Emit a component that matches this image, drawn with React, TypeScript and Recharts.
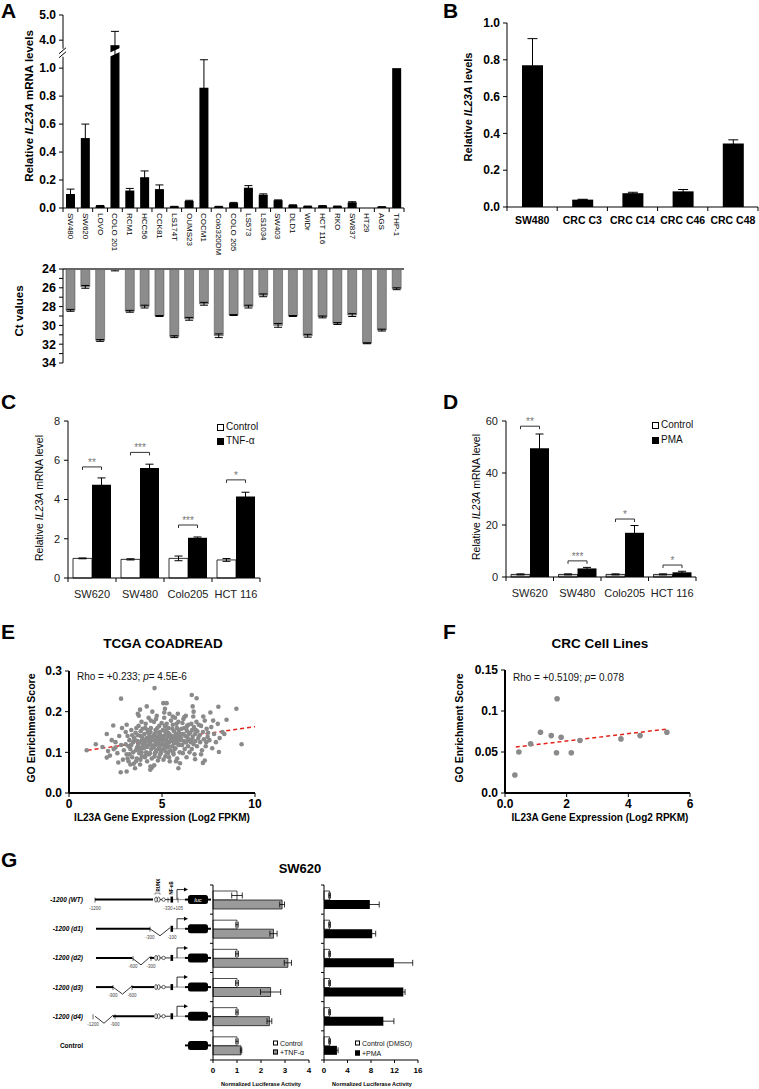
import React from 'react';
import {
  BarChart,
  Bar,
  XAxis,
  YAxis,
  ErrorBar,
  LabelList,
  ScatterChart,
  Scatter,
  ReferenceLine,
} from 'recharts';

const FONT = '"Liberation Sans", Arial, Helvetica, sans-serif';
const NARROW = '"Liberation Sans Narrow", "Liberation Sans", Arial, sans-serif';

// ---------- A: IL23A mRNA + Ct values across cell lines ----------
const A_LINES = [
  'SW480', 'SW620', 'LOVO', 'COLO 201', 'RCM1', 'HCC56', 'CCK81', 'LS174T',
  'OUMS23', 'COCM1', 'Colo320DM', 'COLO 205', 'LS573', 'LS1034', 'SW403',
  'DLD1', 'WiDr', 'HCT 116', 'RKO', 'SW837', 'HT29', 'AGS', 'THP-1',
];
const A_LEVEL = [
  0.1, 0.5, 0.015, 3.8, 0.125, 0.22, 0.135, 0.01, 0.05, 0.86, 0.01, 0.035,
  0.145, 0.095, 0.055, 0.02, 0.012, 0.015, 0.012, 0.04, 0, 0.008, 1.0,
];
const A_LEVEL_ERR = [
  0.035, 0.1, 0.003, 0.55, 0.015, 0.045, 0.03, 0.002, 0.005, 0.2, 0.002, 0.005,
  0.015, 0.006, 0.003, 0.003, 0.002, 0.002, 0.002, 0.005, 0, 0.001, 0,
];
const A_CT = [
  28.4, 25.9, 31.6, 24.1, 28.5, 28.0, 29.0, 31.2, 29.3, 27.7, 31.1, 28.9,
  28.0, 26.8, 30.0, 29.0, 31.1, 29.1, 29.8, 28.9, 31.9, 30.5, 26.1,
];
const A_CT_ERR = [
  0.1, 0.15, 0.1, 0.1, 0.1, 0.15, 0.05, 0.1, 0.15, 0.15, 0.2, 0.05,
  0.15, 0.15, 0.2, 0.05, 0.15, 0.1, 0.1, 0.15, 0.05, 0.1, 0.1,
];
const A_LEVEL_TICKS = [0, 0.2, 0.4, 0.6, 0.8, 1.0, 4.0, 5.0];
const A_CT_TICKS = [24, 25, 26, 27, 28, 29, 30, 31, 32, 33, 34];

// ---------- B: primary CRC cells ----------
const B_SAMPLES = ['SW480', 'CRC C3', 'CRC C14', 'CRC C46', 'CRC C48'];
const B_LEVEL = [0.77, 0.04, 0.075, 0.085, 0.345];
const B_ERR = [0.145, 0.002, 0.005, 0.01, 0.02];
const B_TICKS = [0, 0.2, 0.4, 0.6, 0.8, 1.0];

// ---------- C / D: TNF-a and PMA induction ----------
const CD_LINES = ['SW620', 'SW480', 'Colo205', 'HCT 116'];
const C_CONTROL = [1.0, 0.95, 1.0, 0.92];
const C_CONTROL_ERR = [0.02, 0.03, 0.12, 0.07];
const C_TNF = [4.75, 5.6, 2.05, 4.15];
const C_TNF_ERR = [0.35, 0.2, 0.04, 0.22];
const C_SIG_AT = [5.66, 6.4, 2.7, 5.0];
const C_STARS = ['**', '***', '***', '*'];
const C_TICKS = [0, 2, 4, 6, 8];

const D_CONTROL = [1.0, 1.0, 1.0, 1.0];
const D_CONTROL_ERR = [0.2, 0.2, 0.2, 0.2];
const D_PMA = [49.5, 3.3, 17, 1.8];
const D_PMA_ERR = [5.5, 0.4, 2.8, 0.4];
const D_SIG_AT = [58, 6.2, 22.3, 4.6];
const D_STARS = ['**', '***', '*', '*'];
const D_TICKS = [0, 20, 40, 60];

// ---------- E: TCGA COADREAD scatter ----------
const E_POINTS: [number, number][] = [
  [0.95, 0.105], [2.8, 0.232], [4.6, 0.258], [6.6, 0.241], [6.86, 0.233], [2.03, 0.145],
  [2.38, 0.166], [2.78, 0.051], [3.1, 0.053], [3.55, 0.061], [2.03, 0.087], [2.1, 0.103],
  [8.03, 0.212], [9.0, 0.207], [9.28, 0.12], [8.06, 0.101], [8.47, 0.18], [7.6, 0.198],
  [7.3, 0.08], [7.2, 0.074], [6.78, 0.083], [5.88, 0.061], [5.97, 0.073], [4.37, 0.057],
  [4.45, 0.062], [3.82, 0.205], [4.18, 0.213], [5.07, 0.221], [5.25, 0.221], [5.16, 0.207],
  [6.2, 0.187], [6.65, 0.213], [1.44, 0.12], [1.8, 0.113],
  [2.2, 0.092], [2.4, 0.108], [2.5, 0.125], [2.6, 0.098], [2.7, 0.14], [2.8, 0.118],
  [2.9, 0.082], [2.95, 0.105], [2.3, 0.13], [2.65, 0.075], [2.85, 0.16], [2.5, 0.112],
  [3.05, 0.12], [3.1, 0.095], [3.15, 0.14], [3.2, 0.078], [3.25, 0.13], [3.3, 0.108],
  [3.35, 0.155], [3.4, 0.088], [3.45, 0.125], [3.1, 0.168], [3.2, 0.115], [3.3, 0.07],
  [3.4, 0.142], [3.45, 0.1], [3.15, 0.085], [3.35, 0.118], [3.5, 0.135], [3.05, 0.15],
  [3.25, 0.095], [3.48, 0.072],
  [3.55, 0.13], [3.6, 0.105], [3.62, 0.16], [3.65, 0.085], [3.7, 0.142], [3.72, 0.118],
  [3.75, 0.19], [3.78, 0.098], [3.8, 0.125], [3.82, 0.07], [3.85, 0.152], [3.88, 0.112],
  [3.9, 0.175], [3.92, 0.09], [3.95, 0.135], [3.98, 0.12], [3.6, 0.078], [3.68, 0.128],
  [3.74, 0.165], [3.8, 0.108], [3.86, 0.14], [3.9, 0.1], [3.96, 0.158], [3.58, 0.148],
  [3.66, 0.112], [3.84, 0.082], [3.93, 0.13], [3.7, 0.195],
  [4.02, 0.11], [4.05, 0.145], [4.08, 0.088], [4.1, 0.128], [4.12, 0.17], [4.15, 0.1],
  [4.18, 0.135], [4.2, 0.078], [4.22, 0.155], [4.25, 0.118], [4.28, 0.185], [4.3, 0.095],
  [4.32, 0.14], [4.35, 0.125], [4.38, 0.065], [4.4, 0.16], [4.42, 0.108], [4.45, 0.132],
  [4.48, 0.2], [4.05, 0.12], [4.1, 0.16], [4.15, 0.13], [4.2, 0.113], [4.25, 0.148],
  [4.3, 0.12], [4.35, 0.098], [4.4, 0.178], [4.45, 0.085], [4.12, 0.093], [4.27, 0.135],
  [4.38, 0.15], [4.47, 0.117],
  [4.52, 0.14], [4.55, 0.112], [4.57, 0.175], [4.6, 0.09], [4.62, 0.128], [4.65, 0.155],
  [4.68, 0.102], [4.7, 0.138], [4.72, 0.19], [4.75, 0.12], [4.78, 0.08], [4.8, 0.148],
  [4.82, 0.11], [4.85, 0.165], [4.88, 0.13], [4.9, 0.095], [4.92, 0.142], [4.95, 0.118],
  [4.98, 0.172], [4.55, 0.13], [4.6, 0.145], [4.65, 0.118], [4.7, 0.105], [4.75, 0.16],
  [4.8, 0.125], [4.85, 0.138], [4.9, 0.15], [4.95, 0.1], [4.58, 0.068], [4.68, 0.182],
  [4.78, 0.133], [4.88, 0.108], [4.96, 0.135], [4.62, 0.098], [4.73, 0.125], [4.84, 0.088],
  [5.02, 0.128], [5.05, 0.155], [5.08, 0.108], [5.1, 0.14], [5.12, 0.185], [5.15, 0.118],
  [5.18, 0.09], [5.2, 0.148], [5.22, 0.13], [5.25, 0.17], [5.28, 0.112], [5.3, 0.138],
  [5.32, 0.098], [5.35, 0.16], [5.38, 0.125], [5.4, 0.145], [5.42, 0.078], [5.45, 0.135],
  [5.48, 0.178], [5.05, 0.135], [5.1, 0.12], [5.15, 0.165], [5.2, 0.102], [5.25, 0.142],
  [5.3, 0.125], [5.35, 0.115], [5.4, 0.195], [5.45, 0.105], [5.08, 0.082], [5.18, 0.152],
  [5.28, 0.158], [5.38, 0.088], [5.48, 0.128], [5.12, 0.198], [5.22, 0.118], [5.33, 0.148],
  [5.52, 0.14], [5.55, 0.115], [5.58, 0.168], [5.6, 0.128], [5.62, 0.095], [5.65, 0.152],
  [5.68, 0.135], [5.7, 0.185], [5.72, 0.11], [5.75, 0.145], [5.78, 0.125], [5.8, 0.16],
  [5.82, 0.085], [5.85, 0.138], [5.88, 0.175], [5.9, 0.118], [5.92, 0.148], [5.95, 0.1],
  [5.98, 0.13], [5.55, 0.158], [5.6, 0.1], [5.65, 0.122], [5.7, 0.14], [5.75, 0.078],
  [5.8, 0.132], [5.85, 0.195], [5.9, 0.155], [5.95, 0.142], [5.58, 0.188], [5.68, 0.108],
  [5.78, 0.17], [5.88, 0.12],
  [6.02, 0.135], [6.05, 0.158], [6.08, 0.118], [6.1, 0.172], [6.12, 0.098], [6.15, 0.145],
  [6.18, 0.128], [6.2, 0.16], [6.22, 0.108], [6.25, 0.14], [6.28, 0.19], [6.3, 0.125],
  [6.32, 0.088], [6.35, 0.152], [6.38, 0.135], [6.4, 0.115], [6.42, 0.168], [6.45, 0.145],
  [6.48, 0.1], [6.05, 0.118], [6.15, 0.182], [6.25, 0.125], [6.35, 0.165], [6.45, 0.13],
  [6.1, 0.145], [6.3, 0.158],
  [6.52, 0.148], [6.55, 0.125], [6.58, 0.17], [6.6, 0.108], [6.62, 0.155], [6.65, 0.138],
  [6.68, 0.188], [6.7, 0.12], [6.72, 0.162], [6.75, 0.095], [6.78, 0.145], [6.8, 0.128],
  [6.85, 0.175], [6.88, 0.115], [6.9, 0.152], [6.95, 0.135], [6.98, 0.168], [6.6, 0.13],
  [6.7, 0.2], [6.82, 0.155],
  [7.02, 0.142], [7.05, 0.125], [7.1, 0.165], [7.15, 0.105], [7.2, 0.15], [7.25, 0.132],
  [7.3, 0.178], [7.35, 0.115], [7.4, 0.158], [7.45, 0.138], [7.1, 0.095], [7.22, 0.188],
  [7.38, 0.125], [7.48, 0.148],
  [7.55, 0.13], [7.65, 0.162], [7.7, 0.11], [7.8, 0.145], [7.9, 0.125], [8.0, 0.17],
  [8.1, 0.135], [8.25, 0.15], [8.35, 0.145], [7.75, 0.178],
];
const E_FIT: [number, number][] = [[1, 0.105], [10, 0.163]];

// ---------- F: CRC cell lines scatter ----------
const F_POINTS: [number, number][] = [
  [0.32, 0.022], [0.45, 0.05], [0.83, 0.06], [1.15, 0.074], [1.5, 0.07], [1.69, 0.115],
  [1.67, 0.049], [1.82, 0.068], [2.15, 0.049], [2.43, 0.064], [3.76, 0.066], [4.38, 0.07],
  [5.25, 0.074],
];
const F_FIT: [number, number][] = [[0.35, 0.056], [5.25, 0.078]];

// ---------- G: IL23A promoter luciferase ----------
const G_CONSTRUCTS = ['-1200 (WT)', '-1200 (d1)', '-1200 (d2)', '-1200 (d3)', '-1200 (d4)', 'Control'];
const G_CONTROL = [1.0, 1.0, 1.0, 1.0, 1.0, 1.0];
const G_CONTROL_ERR = [0.22, 0.05, 0.06, 0.06, 0.05, 0.05];
const G_TNF = [2.88, 2.52, 3.12, 2.4, 2.35, 1.17];
const G_TNF_ERR = [0.1, 0.15, 0.15, 0.42, 0.1, 0.03];
const G_DMSO = [0.95, 0.95, 0.95, 0.95, 0.95, 0.95];
const G_DMSO_ERR = [0.15, 0.15, 0.15, 0.15, 0.15, 0.15];
const G_PMA = [7.8, 8.2, 11.9, 13.5, 10.1, 2.2];
const G_PMA_ERR = [1.6, 0.6, 3.2, 0.3, 1.8, 0.2];

// broken y axis of panel A: linear up to 1.0, compressed 4-5 segment above
const BREAK_AT = 1.11;
function brk(v: number) {
  return v < 2 ? v : 1.2 + (v - 4) * 0.18;
}

// ---------- small helpers ----------
function VLabel({ x, y, size, bold = true, children }: any) {
  return (
    <div
      style={{
        position: 'absolute',
        left: x,
        top: y,
        transform: 'translate(-50%, -50%) rotate(-90deg)',
        whiteSpace: 'nowrap',
        fontSize: size,
        fontWeight: bold ? 700 : 400,
        lineHeight: 1,
        color: '#000',
      }}
    >
      {children}
    </div>
  );
}

function HText({ x, y, size, bold = false, anchor = 'middle', children, color = '#000' }: any) {
  return (
    <div
      style={{
        position: 'absolute',
        left: x,
        top: y,
        transform: anchor === 'middle' ? 'translate(-50%, -50%)' : 'translate(0, -50%)',
        whiteSpace: 'nowrap',
        fontSize: size,
        fontWeight: bold ? 700 : 400,
        lineHeight: 1,
        color,
      }}
    >
      {children}
    </div>
  );
}

function LegendItem({ x, y, size, fill, label }: any) {
  const box = Math.round(size * 0.72);
  return (
    <div
      style={{
        position: 'absolute',
        left: x,
        top: y,
        transform: 'translateY(-50%)',
        display: 'flex',
        alignItems: 'center',
        fontSize: size,
        lineHeight: 1,
        whiteSpace: 'nowrap',
        color: '#111',
      }}
    >
      <span
        style={{
          width: box,
          height: box,
          border: '1px solid #000',
          background: fill,
          display: 'inline-block',
          marginRight: 2,
          boxSizing: 'border-box',
        }}
      />
      {label}
    </div>
  );
}

// category tick with marks on band boundaries (bottom axis)
function BandTickX({ x, y, payload, index, visibleTicksCount, drop, draw }: any) {
  const half = payload?.offset ?? 0;
  const axisY = y - drop;
  return (
    <g>
      <line x1={x - half} x2={x - half} y1={axisY} y2={axisY + 4} stroke="#000" />
      {index === visibleTicksCount - 1 && (
        <line x1={x + half} x2={x + half} y1={axisY} y2={axisY + 4} stroke="#000" />
      )}
      {draw ? draw(x, y, payload.value, index) : null}
    </g>
  );
}

// category tick with marks on band boundaries (left axis)
function BandTickY({ x, y, payload, index, visibleTicksCount, drop, draw }: any) {
  const half = payload?.offset ?? 0;
  const axisX = x + drop;
  return (
    <g>
      <line x1={axisX - 3} x2={axisX} y1={y - half} y2={y - half} stroke="#000" />
      {index === visibleTicksCount - 1 && (
        <line x1={axisX - 3} x2={axisX} y1={y + half} y2={y + half} stroke="#000" />
      )}
      {draw ? draw(x, y, payload.value, index) : null}
    </g>
  );
}

function ALevelTick({ x, y, payload }: any) {
  const axisX = x + 7;
  if (Math.abs(payload.value - BREAK_AT) < 1e-6) {
    return (
      <g>
        <rect x={axisX - 6} y={y - 4} width={10} height={8} fill="#fff" />
        <line x1={axisX - 4} y1={y + 1} x2={axisX + 3} y2={y - 5} stroke="#000" />
        <line x1={axisX - 4} y1={y + 5} x2={axisX + 3} y2={y - 1} stroke="#000" />
      </g>
    );
  }
  const label = A_LEVEL_TICKS.find((t) => Math.abs(brk(t) - payload.value) < 1e-6);
  return (
    <text x={x} y={y} textAnchor="end" dominantBaseline="central" fontSize={12} fontWeight={700} fill="#000">
      {label !== undefined ? label.toFixed(1) : ''}
    </text>
  );
}

function ABar(props: any) {
  const { x, y, width, height, payload } = props;
  if (width == null || height == null) return null;
  const bottom = y + height;
  const yb = payload && payload.v > 0 ? bottom - (BREAK_AT * height) / payload.v : 0;
  return (
    <g>
      <rect x={x} y={y} width={width} height={Math.max(height, 0)} fill="#000" />
      {payload?.broken && (
        <polygon
          points={`${x - 1},${yb + 4} ${x + width + 1},${yb - 1} ${x + width + 1},${yb - 5} ${x - 1},${yb}`}
          fill="#fff"
        />
      )}
    </g>
  );
}

function SigMark(props: any) {
  const vb = props.viewBox || props;
  const { x, y, width, height } = vb;
  const i = props.value;
  const { barValues, levels, stars } = props;
  if (x == null || !height || i == null) return null;
  const unit = height / barValues[i];
  const yb = y + height - levels[i] * unit;
  const x1 = x - width / 2;
  const x2 = x + width / 2;
  return (
    <g>
      <path d={`M${x1},${yb + 3} V${yb} H${x2} V${yb + 3}`} fill="none" stroke="#333" strokeWidth={1} />
      <text x={(x1 + x2) / 2} y={yb - 1} textAnchor="middle" fontSize={10} fill="#777">
        {stars[i]}
      </text>
    </g>
  );
}

// promoter drawing for the luciferase constructs (panel G)
const PROMOTER_SHAPES: any[] = [
  { lines: [[95, 153]], dels: [], marks: [[95, '-1200'], [168, '-330'], [178, '+105']], runx: true },
  { lines: [[96, 150]], dels: [[150, 170]], marks: [[150, '-300'], [172, '-100']], runx: false },
  { lines: [[96, 132], [150, 154]], dels: [[132, 150]], marks: [[133, '-600'], [151, '-300']], runx: true },
  { lines: [[96, 113], [132, 154]], dels: [[113, 132]], marks: [[113, '-900'], [132, '-600']], runx: true },
  { lines: [[113, 154]], dels: [[95, 113]], marks: [[93, '-1200'], [115, '-900']], runx: true },
  null,
];

function Construct({ row, yc }: any) {
  const shape = PROMOTER_SHAPES[row];
  const name = G_CONSTRUCTS[row];
  const first = row === 0;
  return (
    <g>
      <text
        x={83}
        y={yc}
        textAnchor="end"
        dominantBaseline="central"
        fontSize={6.5}
        fontWeight={700}
        fontStyle={shape ? 'italic' : 'normal'}
        fill="#000"
      >
        {name}
      </text>
      {shape && (
        <g>
          {shape.lines.map((l: number[], k: number) => (
            <line key={`l${k}`} x1={l[0]} x2={l[1]} y1={yc} y2={yc} stroke="#000" strokeWidth={2} />
          ))}
          {shape.dels.map((d: number[], k: number) => (
            <polyline
              key={`d${k}`}
              points={`${d[0]},${yc} ${(d[0] + d[1]) / 2},${yc + 7} ${d[1]},${yc - 1}`}
              fill="none"
              stroke="#000"
              strokeWidth={0.8}
            />
          ))}
          {shape.marks.map((m: any[], k: number) => (
            <g key={`m${k}`}>
              <line x1={m[0]} x2={m[0]} y1={yc - 2} y2={yc + 3} stroke="#000" strokeWidth={0.6} />
              <text x={m[0]} y={yc + 10} textAnchor="middle" fontSize={4.5} fill="#444">
                {m[1]}
              </text>
            </g>
          ))}
          {shape.runx && (
            <g>
              <ellipse cx={156} cy={yc} rx={1.3} ry={2.6} fill="#fff" stroke="#000" strokeWidth={0.6} />
              <ellipse cx={158.7} cy={yc} rx={1.3} ry={2.6} fill="#fff" stroke="#000" strokeWidth={0.6} />
              <line x1={160} x2={162} y1={yc} y2={yc} stroke="#000" strokeWidth={0.8} />
              <circle cx={163.6} cy={yc} r={1.7} fill="#fff" stroke="#000" strokeWidth={0.6} />
              <line x1={165.3} x2={170.5} y1={yc} y2={yc} stroke="#000" strokeWidth={0.8} />
            </g>
          )}
          <rect x={170.5} y={yc - 3} width={2.6} height={6} fill="#000" />
          <line x1={173} x2={188} y1={yc} y2={yc} stroke="#777" strokeWidth={0.8} />
          <path d={`M177,${yc} V${yc - 10} H184`} fill="none" stroke="#000" strokeWidth={0.8} />
          <polygon points={`184,${yc - 12} 188,${yc - 10} 184,${yc - 8}`} fill="#000" />
          {first && (
            <g>
              <path d={`M155,${yc - 5} v-1.5 h5 v1.5`} fill="none" stroke="#000" strokeWidth={0.5} />
              <text x={158.8} y={yc - 8} transform={`rotate(-90 158.8 ${yc - 8})`} fontSize={4.5} fontWeight={700} dominantBaseline="central">
                RUNX
              </text>
              <text x={171.8} y={yc - 5} transform={`rotate(-90 171.8 ${yc - 5})`} fontSize={4.5} fontWeight={700} dominantBaseline="central">
                NF-κB
              </text>
            </g>
          )}
        </g>
      )}
      <line x1={185} x2={211} y1={yc} y2={yc} stroke="#000" strokeWidth={2} />
      <rect x={188} y={yc - 4.5} width={20} height={9} rx={2.5} fill="#000" />
      {first && (
        <text x={198} y={yc} textAnchor="middle" dominantBaseline="central" fontSize={6} fontStyle="italic" fill="#fff">
          luc
        </text>
      )}
    </g>
  );
}

const boldTick = { fontSize: 12, fontWeight: 700, fill: '#000' };
const plainTick = { fontSize: 11, fill: '#222' };

export default function App() {
  const aRows = A_LINES.map((name, i) => ({
    name,
    v: brk(A_LEVEL[i]),
    e: brk(A_LEVEL[i] + A_LEVEL_ERR[i]) - brk(A_LEVEL[i]),
    broken: A_LEVEL[i] > 2,
  }));
  const aCtRows = A_LINES.map((name, i) => ({ name, ct: A_CT[i], e: A_CT_ERR[i] }));
  const aYTicks = [...A_LEVEL_TICKS.map(brk), BREAK_AT].sort((p, q) => p - q);
  const bRows = B_SAMPLES.map((name, i) => ({ name, v: B_LEVEL[i], e: B_ERR[i] }));
  const cRows = CD_LINES.map((name, i) => ({
    name, idx: i, ctl: C_CONTROL[i], ce: C_CONTROL_ERR[i], trt: C_TNF[i], te: C_TNF_ERR[i],
  }));
  const dRows = CD_LINES.map((name, i) => ({
    name, idx: i, ctl: D_CONTROL[i], ce: D_CONTROL_ERR[i], trt: D_PMA[i], te: D_PMA_ERR[i],
  }));
  const ePoints = E_POINTS.map(([x, y]) => ({ x, y }));
  const fPoints = F_POINTS.map(([x, y]) => ({ x, y }));
  const gTnfRows = G_CONSTRUCTS.map((name, i) => ({
    name, ctl: G_CONTROL[i], ce: G_CONTROL_ERR[i], trt: G_TNF[i], te: G_TNF_ERR[i],
  }));
  const gPmaRows = G_CONSTRUCTS.map((name, i) => ({
    name, ctl: G_DMSO[i], ce: G_DMSO_ERR[i], trt: G_PMA[i], te: G_PMA_ERR[i],
  }));

  const rotLabel = (x: number, y: number, v: string) => (
    <text x={x} y={y} transform={`rotate(90 ${x} ${y})`} textAnchor="start" dominantBaseline="central" fontSize={8} fontFamily={NARROW} fill="#000">
      {v}
    </text>
  );
  const boldLabel = (x: number, y: number, v: string) => (
    <text x={x} y={y} dy="0.71em" textAnchor="middle" fontSize={10.5} fontWeight={700} fill="#000">
      {v}
    </text>
  );
  const plainLabel = (x: number, y: number, v: string) => (
    <text x={x} y={y} dy="0.71em" textAnchor="middle" fontSize={11} fill="#222">
      {v}
    </text>
  );
  const axis = { stroke: '#000', strokeWidth: 1 };
  const thick = { stroke: '#000', strokeWidth: 2 };
  const dot = (p: any) => <circle cx={p.cx} cy={p.cy} r={2.3} fill="#8a8a8a" />;
  const bigDot = (p: any) => <circle cx={p.cx} cy={p.cy} r={2.8} fill="#8a8a8a" />;

  return (
    <div
      style={{
        position: 'absolute',
        left: 0,
        top: 0,
        width: 759,
        height: 1089,
        background: '#fff',
        fontFamily: FONT,
        overflow: 'hidden',
      }}
    >
      {/* A: relative IL23A mRNA, broken axis */}
      <div style={{ position: 'absolute', left: 0, top: 0 }}>
        <BarChart width={410} height={260} data={aRows} margin={{ top: 15, right: 6, left: 0, bottom: 0 }} barCategoryGap={3}>
          <XAxis
            dataKey="name"
            interval={0}
            height={52}
            axisLine={axis}
            tickLine={false}
            tickSize={2}
            tickMargin={3}
            tick={(p: any) => <BandTickX {...p} drop={5} draw={rotLabel} />}
          />
          <YAxis
            type="number"
            domain={[0, brk(5)]}
            ticks={aYTicks}
            interval={0}
            allowDataOverflow
            width={63}
            tickSize={4}
            tickMargin={3}
            axisLine={axis}
            tickLine={axis}
            tick={<ALevelTick />}
          />
          <Bar dataKey="v" fill="#000" barSize={9} shape={ABar} isAnimationActive={false}>
            <ErrorBar dataKey="e" width={4} stroke="#000" strokeWidth={1} />
          </Bar>
        </BarChart>
      </div>

      {/* A: Ct values */}
      <div style={{ position: 'absolute', left: 0, top: 260 }}>
        <BarChart width={410} height={110} data={aCtRows} margin={{ top: 4, right: 6, left: 0, bottom: 7 }} barCategoryGap={3}>
          <XAxis dataKey="name" orientation="top" height={5} tick={false} tickLine={false} axisLine={{ stroke: '#666', strokeWidth: 2 }} />
          <YAxis
            type="number"
            domain={[24, 34]}
            reversed
            ticks={A_CT_TICKS}
            interval={0}
            allowDataOverflow
            width={63}
            tickSize={4}
            tickMargin={3}
            tickFormatter={(v: number) => (v % 2 === 0 ? String(v) : '')}
            tick={{ ...boldTick, fontSize: 12.5 }}
            axisLine={axis}
            tickLine={axis}
          />
          <Bar dataKey="ct" fill="#8c8c8c" stroke="#444" strokeWidth={0.5} barSize={9} isAnimationActive={false}>
            <ErrorBar dataKey="e" width={4} stroke="#000" strokeWidth={1} />
          </Bar>
        </BarChart>
      </div>

      {/* B */}
      <div style={{ position: 'absolute', left: 430, top: 0 }}>
        <BarChart width={329} height={237} data={bRows} margin={{ top: 23, right: 1, left: 0, bottom: 0 }}>
          <XAxis
            dataKey="name"
            interval={0}
            height={30}
            axisLine={axis}
            tickLine={false}
            tickSize={4}
            tickMargin={6}
            tick={(p: any) => <BandTickX {...p} drop={10} draw={boldLabel} />}
          />
          <YAxis
            type="number"
            domain={[0, 1]}
            ticks={B_TICKS}
            interval={0}
            width={77}
            tickSize={4}
            tickMargin={3}
            tickFormatter={(v: number) => v.toFixed(1)}
            tick={boldTick}
            axisLine={axis}
            tickLine={axis}
          />
          <Bar dataKey="v" fill="#000" barSize={21} isAnimationActive={false}>
            <ErrorBar dataKey="e" width={5} stroke="#000" strokeWidth={1} />
          </Bar>
        </BarChart>
      </div>

      {/* C */}
      <div style={{ position: 'absolute', left: 0, top: 380 }}>
        <BarChart width={270} height={223} data={cRows} margin={{ top: 41, right: 10, left: 0, bottom: 0 }} barCategoryGap={5} barGap={0}>
          <XAxis
            dataKey="name"
            interval={0}
            height={25}
            axisLine={axis}
            tickLine={false}
            tickSize={5}
            tickMargin={7}
            tick={(p: any) => <BandTickX {...p} drop={12} draw={plainLabel} />}
          />
          <YAxis type="number" domain={[0, 8]} ticks={C_TICKS} interval={0} width={68} tickSize={4} tickMargin={4} tick={plainTick} axisLine={axis} tickLine={axis} />
          <Bar dataKey="ctl" fill="#fff" stroke="#000" strokeWidth={0.8} isAnimationActive={false}>
            <ErrorBar dataKey="ce" width={4} stroke="#000" strokeWidth={1} />
          </Bar>
          <Bar dataKey="trt" fill="#000" isAnimationActive={false}>
            <ErrorBar dataKey="te" width={4} stroke="#000" strokeWidth={1} />
            <LabelList dataKey="idx" content={(p: any) => <SigMark {...p} barValues={C_TNF} levels={C_SIG_AT} stars={C_STARS} />} />
          </Bar>
        </BarChart>
      </div>

      {/* D */}
      <div style={{ position: 'absolute', left: 430, top: 380 }}>
        <BarChart width={280} height={222} data={dRows} margin={{ top: 41, right: 14, left: 0, bottom: 0 }} barCategoryGap={5} barGap={0}>
          <XAxis
            dataKey="name"
            interval={0}
            height={25}
            axisLine={axis}
            tickLine={false}
            tickSize={5}
            tickMargin={7}
            tick={(p: any) => <BandTickX {...p} drop={12} draw={plainLabel} />}
          />
          <YAxis type="number" domain={[0, 60]} ticks={D_TICKS} interval={0} width={76} tickSize={4} tickMargin={4} tick={plainTick} axisLine={axis} tickLine={axis} />
          <Bar dataKey="ctl" fill="#c8c8c8" stroke="#000" strokeWidth={0.8} isAnimationActive={false}>
            <ErrorBar dataKey="ce" width={4} stroke="#000" strokeWidth={1} />
          </Bar>
          <Bar dataKey="trt" fill="#000" isAnimationActive={false}>
            <ErrorBar dataKey="te" width={4} stroke="#000" strokeWidth={1} />
            <LabelList dataKey="idx" content={(p: any) => <SigMark {...p} barValues={D_PMA} levels={D_SIG_AT} stars={D_STARS} />} />
          </Bar>
        </BarChart>
      </div>

      {/* E */}
      <div style={{ position: 'absolute', left: 0, top: 600 }}>
        <ScatterChart width={270} height={223} margin={{ top: 71, right: 15, left: 0, bottom: 0 }}>
          <XAxis type="number" dataKey="x" domain={[0, 10]} ticks={[0, 5, 10]} interval={0} allowDataOverflow height={30} tickSize={4} tickMargin={2} tick={boldTick} axisLine={thick} tickLine={axis} />
          <YAxis
            type="number"
            dataKey="y"
            domain={[0, 0.3]}
            ticks={[0, 0.1, 0.2, 0.3]}
            interval={0}
            allowDataOverflow
            width={69}
            tickSize={4}
            tickMargin={3}
            tickFormatter={(v: number) => v.toFixed(1)}
            tick={boldTick}
            axisLine={thick}
            tickLine={axis}
          />
          <Scatter data={ePoints} fill="#8a8a8a" shape={dot} isAnimationActive={false} />
          <ReferenceLine
            segment={[{ x: E_FIT[0][0], y: E_FIT[0][1] }, { x: E_FIT[1][0], y: E_FIT[1][1] }]}
            stroke="#e3231c"
            strokeWidth={1.5}
            strokeDasharray="4 3"
          />
        </ScatterChart>
      </div>

      {/* F */}
      <div style={{ position: 'absolute', left: 430, top: 600 }}>
        <ScatterChart width={270} height={223} margin={{ top: 70, right: 10, left: 0, bottom: 0 }}>
          <XAxis
            type="number"
            dataKey="x"
            domain={[0, 6]}
            ticks={[0, 2, 4, 6]}
            interval={0}
            allowDataOverflow
            height={30}
            tickSize={4}
            tickMargin={2}
            tickFormatter={(v: number) => (v === 0 ? '0.0' : String(v))}
            tick={boldTick}
            axisLine={thick}
            tickLine={axis}
          />
          <YAxis
            type="number"
            dataKey="y"
            domain={[0, 0.15]}
            ticks={[0, 0.05, 0.1, 0.15]}
            interval={0}
            allowDataOverflow
            width={75}
            tickSize={4}
            tickMargin={3}
            tickFormatter={(v: number) => (v === 0 ? '0.0' : String(v))}
            tick={boldTick}
            axisLine={thick}
            tickLine={axis}
          />
          <Scatter data={fPoints} fill="#8a8a8a" shape={bigDot} isAnimationActive={false} />
          <ReferenceLine
            segment={[{ x: F_FIT[0][0], y: F_FIT[0][1] }, { x: F_FIT[1][0], y: F_FIT[1][1] }]}
            stroke="#e3231c"
            strokeWidth={1.5}
            strokeDasharray="4 3"
          />
        </ScatterChart>
      </div>

      {/* G: TNF-a luciferase with construct schematic on the category axis */}
      <div style={{ position: 'absolute', left: 0, top: 860 }}>
        <BarChart layout="vertical" width={315} height={225} data={gTnfRows} margin={{ top: 25, right: 6, left: 0, bottom: 0 }} barCategoryGap={6} barGap={0}>
          <XAxis type="number" domain={[0, 4]} ticks={[0, 1, 2, 3, 4]} interval={0} height={25} tickSize={3} tickMargin={4} tick={{ fontSize: 8, fontWeight: 700, fill: '#000' }} axisLine={axis} tickLine={axis} />
          <YAxis
            type="category"
            dataKey="name"
            width={213}
            interval={0}
            tickLine={false}
            tickSize={3}
            tickMargin={2}
            axisLine={axis}
            tick={(p: any) => (
              <BandTickY {...p} drop={5} draw={(x: number, y: number, v: string, i: number) => <Construct row={i} yc={y} />} />
            )}
          />
          <Bar dataKey="ctl" fill="#fff" stroke="#000" strokeWidth={0.7} isAnimationActive={false}>
            <ErrorBar dataKey="ce" direction="x" width={3} stroke="#000" strokeWidth={0.8} />
          </Bar>
          <Bar dataKey="trt" fill="#9a9a9a" stroke="#000" strokeWidth={0.7} isAnimationActive={false}>
            <ErrorBar dataKey="te" direction="x" width={3} stroke="#000" strokeWidth={0.8} />
          </Bar>
        </BarChart>
      </div>

      {/* G: PMA luciferase */}
      <div style={{ position: 'absolute', left: 310, top: 860 }}>
        <BarChart layout="vertical" width={115} height={225} data={gPmaRows} margin={{ top: 25, right: 7, left: 0, bottom: 0 }} barCategoryGap={6} barGap={0}>
          <XAxis type="number" domain={[0, 16]} ticks={[0, 4, 8, 12, 16]} interval={0} height={25} tickSize={3} tickMargin={4} tick={{ fontSize: 8, fontWeight: 700, fill: '#000' }} axisLine={axis} tickLine={axis} />
          <YAxis
            type="category"
            dataKey="name"
            width={14}
            interval={0}
            tickLine={false}
            tickSize={3}
            tickMargin={2}
            axisLine={axis}
            tick={(p: any) => <BandTickY {...p} drop={5} />}
          />
          <Bar dataKey="ctl" fill="#fff" stroke="#000" strokeWidth={0.7} isAnimationActive={false}>
            <ErrorBar dataKey="ce" direction="x" width={3} stroke="#000" strokeWidth={0.8} />
          </Bar>
          <Bar dataKey="trt" fill="#000" isAnimationActive={false}>
            <ErrorBar dataKey="te" direction="x" width={3} stroke="#000" strokeWidth={0.8} />
          </Bar>
        </BarChart>
      </div>

      {/* panel letters */}
      <HText x={1} y={10} size={21} bold anchor="start">A</HText>
      <HText x={443} y={10} size={21} bold anchor="start">B</HText>
      <HText x={1} y={401} size={21} bold anchor="start">C</HText>
      <HText x={443} y={401} size={21} bold anchor="start">D</HText>
      <HText x={1} y={631} size={21} bold anchor="start">E</HText>
      <HText x={443} y={631} size={21} bold anchor="start">F</HText>
      <HText x={1} y={859} size={21} bold anchor="start">G</HText>

      {/* axis titles */}
      <VLabel x={30} y={106} size={11.5}>Relative <i>IL23A</i> mRNA levels</VLabel>
      <VLabel x={20} y={311} size={11.5}>Ct values</VLabel>
      <VLabel x={468} y={107} size={11}>Relative <i>IL23A</i> levels</VLabel>
      <VLabel x={39} y={498} size={10.5} bold={false}>Relative <i>IL23A</i> mRNA level</VLabel>
      <VLabel x={476} y={497} size={10.5} bold={false}>Relative <i>IL23A</i> mRNA level</VLabel>
      <VLabel x={31} y={728} size={10.5}>GO Enrichment Score</VLabel>
      <VLabel x={459} y={728} size={10.5}>GO Enrichment Score</VLabel>
      <HText x={162} y={818} size={10} bold>IL23A Gene Expression (Log2 FPKM)</HText>
      <HText x={600} y={818} size={10} bold>IL23A Gene Expression (Log2 RPKM)</HText>
      <HText x={261} y={1085} size={5.5} bold>Normalized Luciferase Activity</HText>
      <HText x={372} y={1085} size={5.5} bold>Normalized Luciferase Activity</HText>

      {/* titles and annotations */}
      <HText x={163} y={644} size={13.5} bold>TCGA COADREAD</HText>
      <HText x={600} y={644} size={13.5} bold>CRC Cell Lines</HText>
      <HText x={300} y={868} size={13} bold>SW620</HText>
      <HText x={77} y={677} size={10} anchor="start" color="#111">
        Rho = +0.233; <i>p</i>= 4.5E-6
      </HText>
      <HText x={513} y={678} size={10} anchor="start" color="#111">
        Rho = +0.5109; <i>p</i>= 0.078
      </HText>

      {/* legends */}
      <LegendItem x={217} y={427} size={10} fill="#fff" label="Control" />
      <LegendItem x={217} y={441} size={10} fill="#000" label="TNF-α" />
      <LegendItem x={652} y={425} size={10} fill="#fff" label="Control" />
      <LegendItem x={652} y={440} size={10} fill="#000" label="PMA" />
      <LegendItem x={273} y={1043} size={7} fill="#fff" label="Control" />
      <LegendItem x={273} y={1052} size={7} fill="#9a9a9a" label="+TNF-α" />
      <LegendItem x={355} y={1043} size={7} fill="#fff" label="Control (DMSO)" />
      <LegendItem x={355} y={1053} size={7} fill="#000" label="+PMA" />
    </div>
  );
}
